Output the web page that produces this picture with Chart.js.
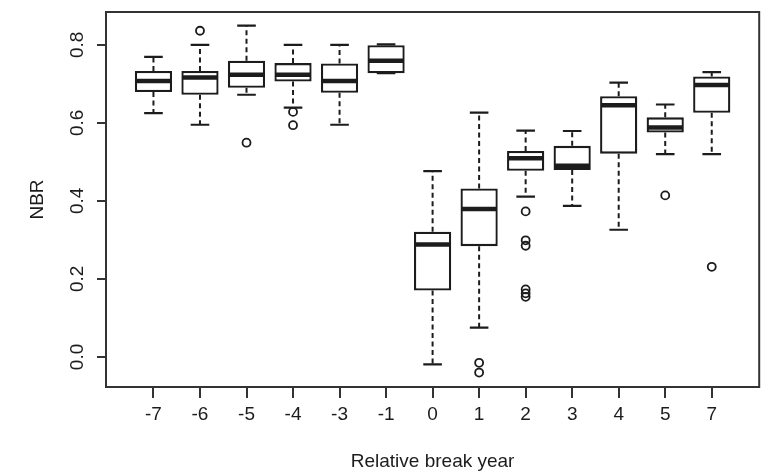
<!DOCTYPE html>
<html>
<head>
<meta charset="utf-8">
<script src="https://cdn.jsdelivr.net/npm/chart.js@4/dist/chart.umd.min.js"></script>
<style>
  html, body { margin: 0; padding: 0; background: #fff; }
  #wrap { width: 765px; height: 475px; }
</style>
</head>
<body>
<div id="wrap"><canvas id="nbr"></canvas></div>
<script>
/* NBR by relative break year — R-style boxplot drawn with Chart.js */
const years       = ["-7", "-6", "-5", "-4", "-3", "-1", "0", "1", "2", "3", "4", "5", "7"];
const whiskerLow  = [0.625, 0.595, 0.672, 0.639, 0.595, 0.727, -0.019, 0.075, 0.411, 0.387, 0.326, 0.520, 0.520];
const q1          = [0.679, 0.672, 0.690, 0.706, 0.677, 0.727, 0.170, 0.284, 0.477, 0.479, 0.521, 0.575, 0.626];
const median      = [0.707, 0.716, 0.723, 0.723, 0.707, 0.759, 0.288, 0.379, 0.509, 0.490, 0.645, 0.588, 0.697];
const q3          = [0.733, 0.733, 0.759, 0.753, 0.752, 0.799, 0.321, 0.432, 0.528, 0.541, 0.668, 0.614, 0.719];
const whiskerHigh = [0.769, 0.800, 0.849, 0.800, 0.800, 0.801, 0.476, 0.626, 0.580, 0.579, 0.703, 0.647, 0.730];

// outliers: which box (by year label) and value
const outlierYear = ["-6", "-5", "-4", "-4", "1", "1", "2", "2", "2", "2", "2", "2", "5", "7"];
const outlierVal  = [0.836, 0.549, 0.628, 0.594, -0.015, -0.040, 0.373, 0.299, 0.285, 0.173, 0.163, 0.154, 0.414, 0.231];

const yTicks = [0, 0.2, 0.4, 0.6, 0.8];

const INK = "#1c1c1c";
const pos = years.map((_, i) => i + 1);
const boxWidth = 0.8;

const whiskers = {
  id: "whiskers",
  afterDatasetsDraw(chart) {
    const { ctx, scales: { x, y } } = chart;
    const half = x.getPixelForValue(1 + boxWidth / 2) - x.getPixelForValue(1);
    ctx.save();
    ctx.strokeStyle = INK;
    pos.forEach((p, i) => {
      const cx = x.getPixelForValue(p);
      // dashed whiskers
      ctx.lineWidth = 2;
      ctx.setLineDash([5, 3.5]);
      ctx.beginPath();
      ctx.moveTo(cx, y.getPixelForValue(q3[i])); ctx.lineTo(cx, y.getPixelForValue(whiskerHigh[i]));
      ctx.moveTo(cx, y.getPixelForValue(q1[i])); ctx.lineTo(cx, y.getPixelForValue(whiskerLow[i]));
      ctx.stroke();
      // caps
      ctx.setLineDash([]);
      ctx.lineWidth = 2.2;
      ctx.beginPath();
      [whiskerHigh[i], whiskerLow[i]].forEach(v => {
        const py = y.getPixelForValue(v);
        ctx.moveTo(cx - half / 2, py); ctx.lineTo(cx + half / 2, py);
      });
      ctx.stroke();
      // median
      ctx.lineWidth = 4.5;
      ctx.beginPath();
      const my = y.getPixelForValue(median[i]);
      ctx.moveTo(cx - half + 1, my); ctx.lineTo(cx + half - 1, my);
      ctx.stroke();
    });
    ctx.restore();
  },
  afterDraw(chart) {
    const { ctx, chartArea: a } = chart;
    ctx.save();
    ctx.strokeStyle = "#333";
    ctx.lineWidth = 2;
    ctx.strokeRect(a.left, a.top, a.right - a.left, a.bottom - a.top);
    ctx.restore();
  }
};

const font = { family: "'Liberation Sans', Arial, sans-serif", size: 19 };
const noPad = s => { s.paddingTop = s.paddingBottom = s.paddingLeft = s.paddingRight = 0; };

new Chart(document.getElementById("nbr"), {
  type: "bar",
  data: {
    datasets: [
      {
        type: "bar",
        data: pos.map((p, i) => ({ x: p, y: [q1[i], q3[i]] })),
        backgroundColor: "#fff", borderColor: INK, borderWidth: 2.3, borderSkipped: false,
        categoryPercentage: boxWidth, barPercentage: 1,
      },
      {
        type: "scatter",
        data: outlierYear.map((yr, i) => ({ x: years.indexOf(yr) + 1, y: outlierVal[i] })),
        pointStyle: "circle", pointRadius: 4, borderWidth: 1.8,
        borderColor: INK, backgroundColor: "rgba(255,255,255,0)",
      },
    ],
  },
  options: {
    responsive: true, maintainAspectRatio: false, animation: false,
    layout: { padding: { top: 12, right: 2, left: 0, bottom: 0 } },
    plugins: { legend: { display: false }, tooltip: { enabled: false } },
    scales: {
      x: {
        type: "linear", min: -0.02, max: 14.02, offset: false,
        afterBuildTicks: s => { s.ticks = pos.map(v => ({ value: v })); },
        afterFit: s => { s.height = 88; noPad(s); },
        grid: { display: true, offset: false, drawOnChartArea: false, drawTicks: true, tickLength: 11, color: "#333", lineWidth: 2 },
        border: { display: false },
        ticks: { font, color: INK, padding: 5, maxRotation: 0, autoSkip: false, callback: v => years[v - 1] },
        title: { display: true, text: "Relative break year", font, color: INK, padding: { top: 0, bottom: 2 } },
      },
      y: {
        min: -0.077, max: 0.884,
        afterBuildTicks: s => { s.ticks = yTicks.map(v => ({ value: v })); },
        afterFit: s => { s.width = 106; noPad(s); },
        grid: { display: true, drawOnChartArea: false, drawTicks: true, tickLength: 9, color: "#333", lineWidth: 2 },
        border: { display: false },
        ticks: { font, color: INK, padding: 6, minRotation: 90, maxRotation: 90, crossAlign: "center", callback: v => v.toFixed(1) },
        title: { display: true, text: "NBR", font, color: INK, padding: { top: 26, bottom: 0 } },
      },
    },
  },
  plugins: [whiskers],
});
</script>
</body>
</html>
